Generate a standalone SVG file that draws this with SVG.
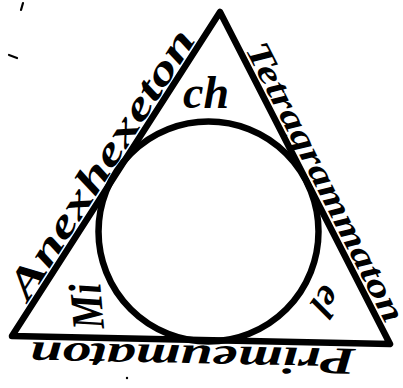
<svg xmlns="http://www.w3.org/2000/svg" width="403" height="388" viewBox="0 0 403 388">
<style>
.ln{fill:none;stroke:#000;stroke-width:6.5;stroke-linejoin:round;stroke-linecap:round}
.sc{font-family:"Liberation Serif","DejaVu Serif",serif;font-style:italic;font-weight:bold;fill:#000}
</style>
<rect width="403" height="388" fill="#fff"/>
<g id="triangle"><path class="ln" d="M220,12 L390,344 L12,336 Z"/></g>
<g id="circle"><circle class="ln" cx="208.5" cy="231.5" r="110" stroke-width="7.5"/></g>
<g id="side-left"><text class="sc" font-size="40" textLength="312" lengthAdjust="spacingAndGlyphs" transform="translate(28,302) rotate(-57.3)">Anexhexeton</text></g>
<g id="side-right"><text class="sc" font-size="34" textLength="310" lengthAdjust="spacingAndGlyphs" transform="translate(245,49) rotate(62.9)">Tetragrammaton</text></g>
<g id="side-bottom"><text class="sc" font-size="38" textLength="326" lengthAdjust="spacingAndGlyphs" transform="translate(356,349) rotate(181.2)">Primeumaton</text></g>
<g id="corner-top"><text class="sc" font-size="46" x="183" y="108">ch</text></g>
<g id="corner-left"><text class="sc" font-size="46" textLength="46" lengthAdjust="spacingAndGlyphs" transform="translate(104,328) rotate(-95)">Mi</text></g>
<g id="corner-right"><text class="sc" font-size="38" transform="translate(324,283) rotate(125)">el</text></g>
<g id="specks" stroke="#000" stroke-width="2.2" stroke-linecap="round">
<line x1="23" y1="3" x2="21" y2="10"/>
<line x1="9" y1="55" x2="17" y2="58"/>
<circle cx="127" cy="378" r="1.2" stroke="none" fill="#000"/>
</g>
</svg>
